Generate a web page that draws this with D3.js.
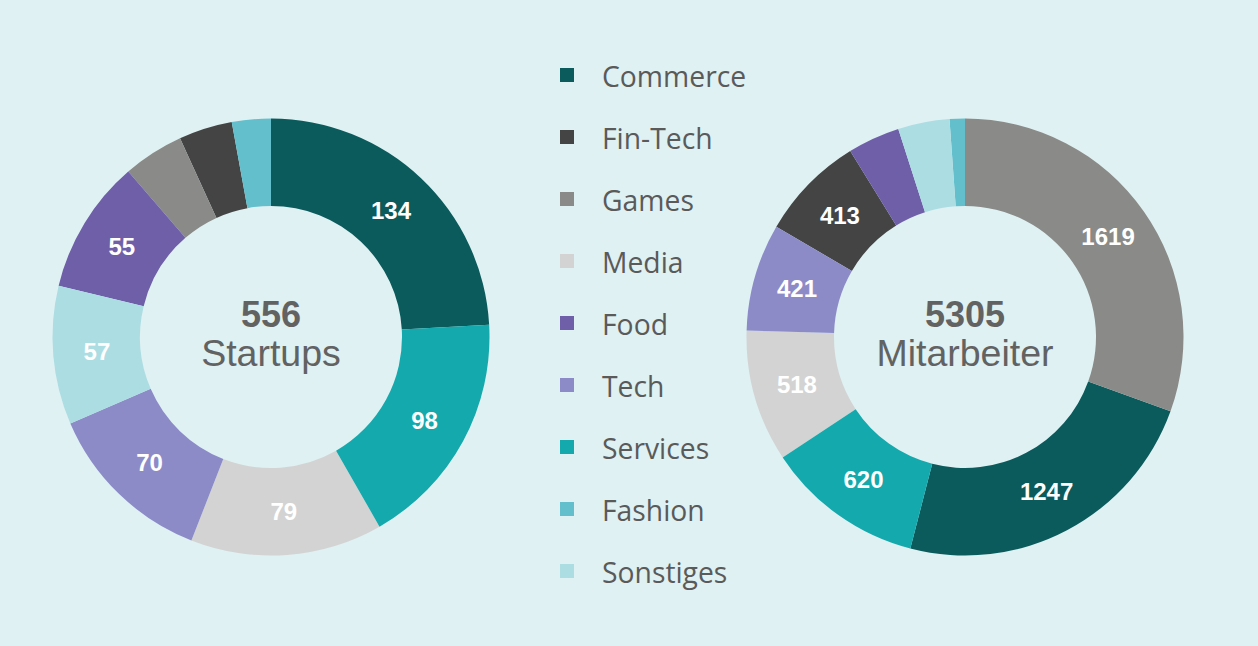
<!DOCTYPE html>
<html>
<head>
<meta charset="utf-8">
<script src="https://cdn.jsdelivr.net/npm/d3@7"></script>
<style>
  html, body { margin: 0; padding: 0; background: #dff1f2; }
  svg { display: block; }
</style>
</head>
<body>
<svg id="chart" width="1258" height="646"></svg>
<script>
const categories = ["Commerce", "Fin-Tech", "Games", "Media", "Food", "Tech", "Services", "Fashion", "Sonstiges"];
const colors = ["#0b5a5c", "#444444", "#8a8a88", "#d3d3d3", "#6e5fa8", "#8c8bc8", "#14a9ad", "#62bfcb", "#acdde3"];
const startups = [134, 22, 25, 79, 55, 70, 98, 16, 57];
const mitarbeiter = [1247, 413, 1619, 518, 205, 421, 620, 60, 202];
const centerTitles = [["556", "Startups"], ["5305", "Mitarbeiter"]];

const svg = d3.select("#chart");
svg.append("rect").attr("width", 1258).attr("height", 646).attr("fill", "#dff1f2");

const color = d3.scaleOrdinal().domain(categories).range(colors);
const outerR = 218.5, innerR = 131;
const arc = d3.arc().innerRadius(innerR).outerRadius(outerR);
const labelArc = d3.arc().innerRadius((innerR + outerR) / 2).outerRadius((innerR + outerR) / 2);
const pie = d3.pie().value(d => d.value).sort((a, b) => b.value - a.value);

function donut(values, cx, cy, titles) {
  const data = categories.map((c, i) => ({ cat: c, value: values[i] }));
  const total = d3.sum(values);
  const g = svg.append("g").attr("transform", `translate(${cx},${cy})`);
  const arcs = pie(data);
  g.selectAll("path").data(arcs).join("path")
    .attr("d", arc)
    .attr("fill", d => color(d.data.cat));
  g.selectAll("text.val").data(arcs.filter(d => d.data.value / total > 0.06)).join("text")
    .attr("class", "val")
    .attr("transform", d => `translate(${labelArc.centroid(d)})`)
    .attr("text-anchor", "middle")
    .attr("dy", "0.36em")
    .attr("fill", "#ffffff")
    .attr("font-family", "Liberation Sans, Arial, sans-serif")
    .attr("font-weight", "bold")
    .attr("font-size", 24)
    .text(d => d.data.value);
  g.append("text")
    .attr("text-anchor", "middle").attr("y", -10)
    .attr("fill", "#626262")
    .attr("font-family", "Liberation Sans, Arial, sans-serif")
    .attr("font-weight", "bold").attr("font-size", 36)
    .text(titles[0]);
  g.append("text")
    .attr("text-anchor", "middle").attr("y", 29)
    .attr("fill", "#626262")
    .attr("font-family", "Liberation Sans, Arial, sans-serif")
    .attr("font-size", 37.5)
    .text(titles[1]);
}

donut(startups, 271, 337, centerTitles[0]);
donut(mitarbeiter, 965, 337, centerTitles[1]);

const ly = d3.scalePoint().domain(categories).range([75, 571]);
const legend = svg.append("g");
const items = legend.selectAll("g").data(categories).join("g")
  .attr("transform", d => `translate(560,${ly(d)})`);
items.append("rect").attr("x", 0).attr("y", -7).attr("width", 14).attr("height", 14)
  .attr("fill", d => color(d));
items.append("text").attr("x", 42).attr("y", 2).attr("dy", "0.36em")
  .attr("fill", "#5a5a5a")
  .attr("font-family", "Open Sans, sans-serif")
  .attr("font-size", 28.3)
  .text(d => d);
</script>
</body>
</html>
